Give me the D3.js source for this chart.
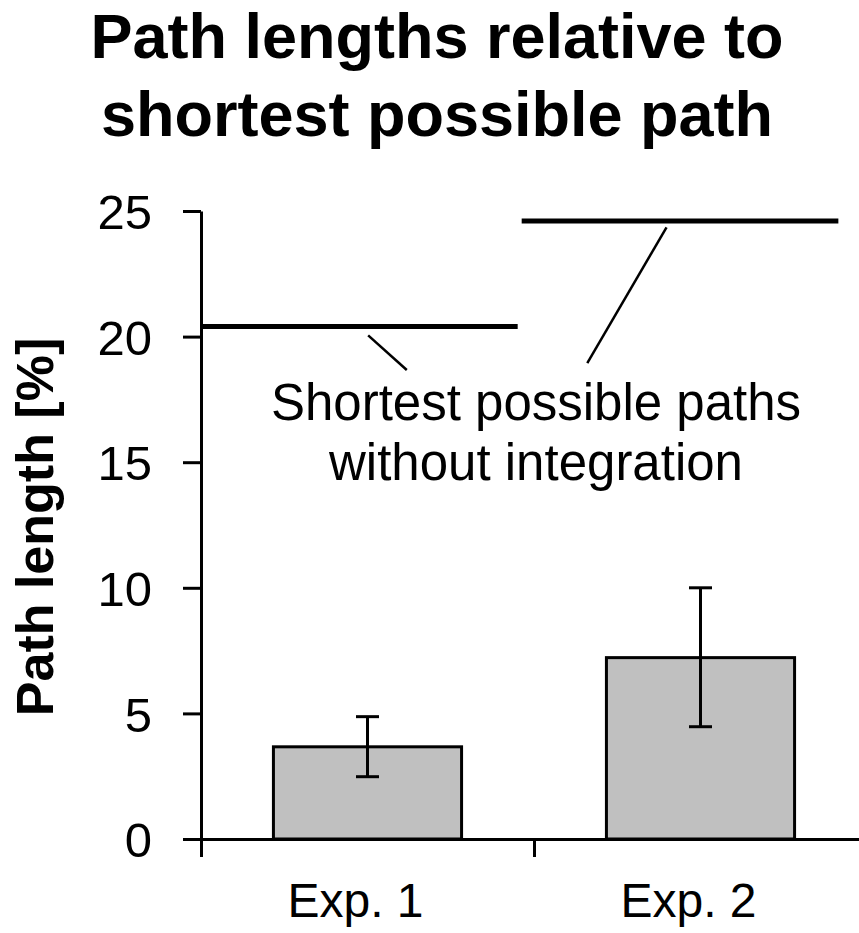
<!DOCTYPE html>
<html>
<head>
<meta charset="utf-8">
<script src="https://cdn.jsdelivr.net/npm/d3@7"></script>
<style>
  body { margin: 0; background: #fff; }
  text { font-family: "Liberation Sans", Arial, sans-serif; fill: #000; }
</style>
</head>
<body>
<div class="chart"></div>
<script>
// data
let experiments = ['Exp. 1', 'Exp. 2'];
let pathLength = [3.67, 7.22];
let errLow = [2.48, 4.47];
let errHigh = [4.87, 10.0];
let shortestPaths = [20.4, 24.6];
let yTicks = [0, 5, 10, 15, 20, 25];
let titleLines = ['Path lengths relative to', 'shortest possible path'];
let noteLines = ['Shortest possible paths', 'without integration'];

var W = 859, H = 933;

let svg = d3.select('.chart')
  .append('svg')
  .attr('width', W)
  .attr('height', H);

//scales
let yScale = d3.scaleLinear()
  .domain([0, 25])
  .range([839, 211]);

let xScale = d3.scaleBand()
  .domain(experiments)
  .range([201, 867])
  .padding(0);

let step = xScale.step();
let barW = step * 0.565;

let xEdge = d3.scaleLinear()
  .domain([0, experiments.length])
  .range(xScale.range());

// title
svg.selectAll('.title')
  .data(titleLines)
  .enter()
  .append('text')
  .attr('class', 'title')
  .attr('x', 437)
  .attr('y', (d, i) => 58 + i * 78)
  .attr('text-anchor', 'middle')
  .style('font-size', '63px')
  .style('font-weight', 'bold')
  .text(d => d);

// bars
let bars = svg.selectAll('.bar')
  .data(experiments)
  .enter()
  .append('g')
  .attr('class', 'bar');

bars.append('rect')
  .attr('x', d => xScale(d) + step / 2 - barW / 2)
  .attr('y', (d, i) => yScale(pathLength[i]))
  .attr('width', barW)
  .attr('height', (d, i) => yScale(0) - yScale(pathLength[i]))
  .style('fill', '#c0c0c0')
  .style('stroke', '#000')
  .style('stroke-width', 3);

// error bars
bars.append('line')
  .attr('x1', d => xScale(d) + step / 2)
  .attr('x2', d => xScale(d) + step / 2)
  .attr('y1', (d, i) => yScale(errLow[i]))
  .attr('y2', (d, i) => yScale(errHigh[i]))
  .style('stroke', '#000')
  .style('stroke-width', 3);

[errLow, errHigh].forEach(arr => {
  bars.append('line')
    .attr('x1', d => xScale(d) + step / 2 - 11.5)
    .attr('x2', d => xScale(d) + step / 2 + 11.5)
    .attr('y1', (d, i) => yScale(arr[i]))
    .attr('y2', (d, i) => yScale(arr[i]))
    .style('stroke', '#000')
    .style('stroke-width', 3);
});

// axes
let yAxis = d3.axisLeft(yScale)
  .tickValues(yTicks)
  .tickSize(18)
  .tickSizeOuter(0)
  .tickPadding(31);

let gy = svg.append('g')
  .attr('transform', 'translate(201, 0)')
  .call(yAxis);
gy.selectAll('path, line').style('stroke', '#000').style('stroke-width', 3);
gy.selectAll('text')
  .style('font-size', '49px')
  .attr('dy', '0.36em');

let gx = svg.append('g')
  .attr('transform', `translate(0, ${yScale(0)})`)
  .call(d3.axisBottom(xEdge).tickValues([0, 1, 2]).tickFormat('').tickSize(18).tickSizeOuter(0));
gx.selectAll('path, line').style('stroke', '#000').style('stroke-width', 3);

let gxl = svg.append('g')
  .attr('transform', `translate(0, ${yScale(0)})`)
  .call(d3.axisBottom(xScale).tickSize(0));
gxl.select('.domain').remove();
gxl.selectAll('text')
  .attr('y', 78)
  .attr('dy', 0)
  .attr('dx', -12)
  .style('font-size', '48px');

// y label
svg.append('text')
  .attr('transform', 'translate(53, 527) rotate(-90)')
  .attr('text-anchor', 'middle')
  .style('font-size', '52px')
  .style('font-weight', 'bold')
  .text('Path length [%]');

// shortest possible path lines
let refSpan = [[0, 0.951], [-0.037, 0.914]];
svg.selectAll('.ref')
  .data(experiments)
  .enter()
  .append('line')
  .attr('class', 'ref')
  .attr('x1', (d, i) => xScale(d) + refSpan[i][0] * step)
  .attr('x2', (d, i) => xScale(d) + refSpan[i][1] * step)
  .attr('y1', (d, i) => yScale(shortestPaths[i]))
  .attr('y2', (d, i) => yScale(shortestPaths[i]))
  .style('stroke', '#000')
  .style('stroke-width', 5);

// annotation
let leaders = [
  {cat: 'Exp. 1', f1: 0.502, v1: 20.05, f2: 0.618, v2: 18.67},
  {cat: 'Exp. 2', f1: 0.398, v1: 24.35, f2: 0.160, v2: 18.94}
];
svg.selectAll('.leader')
  .data(leaders)
  .enter()
  .append('line')
  .attr('class', 'leader')
  .attr('x1', d => xScale(d.cat) + d.f1 * step)
  .attr('y1', d => yScale(d.v1))
  .attr('x2', d => xScale(d.cat) + d.f2 * step)
  .attr('y2', d => yScale(d.v2))
  .style('stroke', '#000')
  .style('stroke-width', 2.5);

svg.selectAll('.note')
  .data(noteLines)
  .enter()
  .append('text')
  .attr('class', 'note')
  .attr('x', xScale('Exp. 2') + 2)
  .attr('y', (d, i) => yScale(16.68) + i * 60)
  .attr('text-anchor', 'middle')
  .style('font-size', '51px')
  .text(d => d);
</script>
</body>
</html>
